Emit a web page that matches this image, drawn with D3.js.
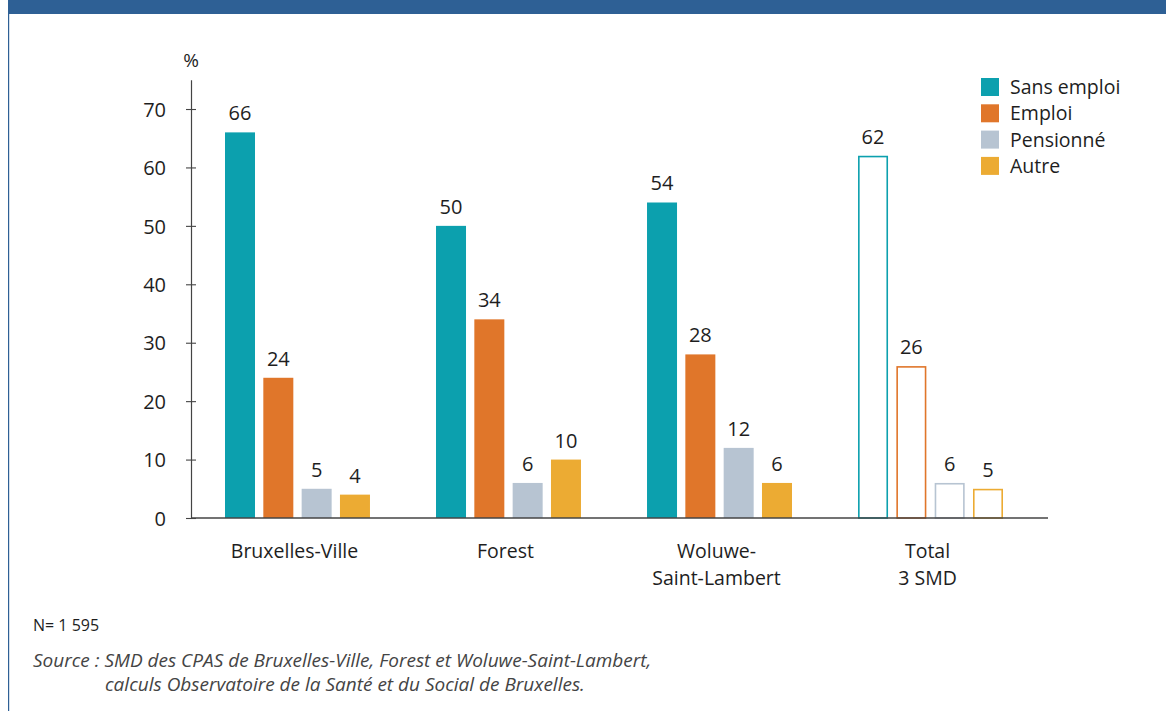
<!DOCTYPE html>
<html>
<head>
<meta charset="utf-8">
<script src="https://cdn.jsdelivr.net/npm/d3@7"></script>
<style>
  html, body { margin: 0; padding: 0; background: #fff; }
  svg { display: block; }
  svg text { font-family: "Open Sans", "Noto Sans", sans-serif; }
</style>
</head>
<body>
<svg id="chart" width="1166" height="711"></svg>
<script>
// Groups (CPAS) and their label lines
const categories = ["Bruxelles-Ville", "Forest", "Woluwe-Saint-Lambert", "Total 3 SMD"];
const categoryLines = [["Bruxelles-Ville"], ["Forest"], ["Woluwe-", "Saint-Lambert"], ["Total", "3 SMD"]];

// Situation series (%)
const series = ["Sans emploi", "Emploi", "Pensionné", "Autre"];
const sansEmploi = [66, 50, 54, 62];
const emploi     = [24, 34, 28, 26];
const pensionne  = [5, 6, 12, 6];
const autre      = [4, 10, 6, 5];

const yTicks = [0, 10, 20, 30, 40, 50, 60, 70];
const colors = ["#0ca0ae", "#e0762a", "#b7c4d2", "#ecab33"];

const seriesValues = [sansEmploi, emploi, pensionne, autre];
const rows = categories.map((c, i) => ({
  category: c,
  total: i === categories.length - 1,
  values: series.map((s, j) => ({ series: s, value: seriesValues[j][i] }))
}));

const svg = d3.select("#chart");
const ink = "#1e1e1e";

// Frame: top band and left rule
svg.append("rect").attr("x", 8).attr("y", 0).attr("width", 1158).attr("height", 14).attr("fill", "#2e6095");
svg.append("rect").attr("x", 8).attr("y", 0).attr("width", 1.2).attr("height", 711).attr("fill", "#2e6095");

const x0 = d3.scaleBand().domain(categories).range([225, 1003]).paddingInner(0.313).paddingOuter(0);
const x1 = d3.scaleBand().domain(series).range([0, x0.bandwidth()]).paddingInner(0.217).paddingOuter(0);
const y = d3.scaleLinear().domain([0, 75]).range([518, 79.8]);
const color = d3.scaleOrdinal().domain(series).range(colors);

// Y axis
const yAxis = svg.append("g").attr("transform", "translate(191,0)")
  .call(d3.axisLeft(y).tickValues(yTicks).tickSize(5).tickSizeOuter(0))
  .attr("font-family", null).attr("font-size", null);
yAxis.select(".domain").attr("stroke", "#444").attr("stroke-width", 1.2);
yAxis.selectAll(".tick line").attr("stroke", "#444").attr("x2", 5).attr("x1", -5).attr("stroke-width", 1.1);
yAxis.selectAll(".tick text").attr("font-size", 20).attr("fill", ink)
  .attr("x", -25).attr("dy", "0.36em");

svg.append("text").attr("x", 191).attr("y", 67).attr("text-anchor", "middle")
  .attr("font-size", 19).attr("fill", ink).text("%");

// Groups of bars
const groups = svg.append("g").selectAll("g").data(rows).join("g")
  .attr("transform", d => `translate(${x0(d.category)},0)`);

groups.each(function (d) {
  const g = d3.select(this);
  const sw = 1.6;
  g.selectAll("rect").data(d.values).join("rect")
    .attr("x", v => x1(v.series) + (d.total ? sw / 2 : 0))
    .attr("y", v => y(v.value) + (d.total ? sw / 2 : 0))
    .attr("width", x1.bandwidth() - (d.total ? sw : 0))
    .attr("height", v => y(0) - y(v.value) - (d.total ? sw / 2 : 0))
    .attr("fill", v => d.total ? "#fff" : color(v.series))
    .attr("stroke", v => d.total ? color(v.series) : "none")
    .attr("stroke-width", sw);
  g.selectAll("text.val").data(d.values).join("text").attr("class", "val")
    .attr("x", v => x1(v.series) + x1.bandwidth() / 2)
    .attr("y", v => y(v.value) - 12)
    .attr("text-anchor", "middle").attr("font-size", 20).attr("fill", ink)
    .text(v => v.value);
});

// X baseline
svg.append("line").attr("x1", 191).attr("x2", 1048).attr("y1", y(0)).attr("y2", y(0))
  .attr("stroke", "#444").attr("stroke-width", 1.4);

// Category labels
const xAxis = svg.append("g").attr("transform", `translate(0,${y(0)})`)
  .call(d3.axisBottom(x0).tickSize(0).tickFormat(""))
  .attr("font-family", null).attr("font-size", null);
xAxis.select(".domain").remove();
xAxis.selectAll(".tick").each(function (c, i) {
  const t = d3.select(this).append("text").attr("fill", ink).attr("font-size", 19.5)
    .attr("text-anchor", "middle").attr("x", -3).attr("y", 40);
  categoryLines[i].forEach((line, k) => {
    t.append("tspan").attr("x", -3).attr("dy", k === 0 ? 0 : 27).text(line);
  });
});

// Legend
const legend = svg.append("g").attr("transform", "translate(981,78)");
const li = legend.selectAll("g").data(series).join("g").attr("transform", (d, i) => `translate(0,${i * 26.3})`);
li.append("rect").attr("width", 18).attr("height", 18).attr("fill", d => color(d));
li.append("text").attr("x", 29).attr("y", 9).attr("dy", "0.36em").attr("font-size", 19.5).attr("fill", ink).text(d => d);

// Notes
svg.append("text").attr("x", 33).attr("y", 631).attr("font-size", 16).attr("fill", ink).text("N= 1 595");
const src = svg.append("text").attr("font-size", 19).attr("font-style", "italic").attr("fill", "#444");
src.append("tspan").attr("x", 33).attr("y", 667).text("Source : SMD des CPAS de Bruxelles-Ville, Forest et Woluwe-Saint-Lambert,");
src.append("tspan").attr("x", 105).attr("y", 691).text("calculs Observatoire de la Santé et du Social de Bruxelles.");
</script>
</body>
</html>
